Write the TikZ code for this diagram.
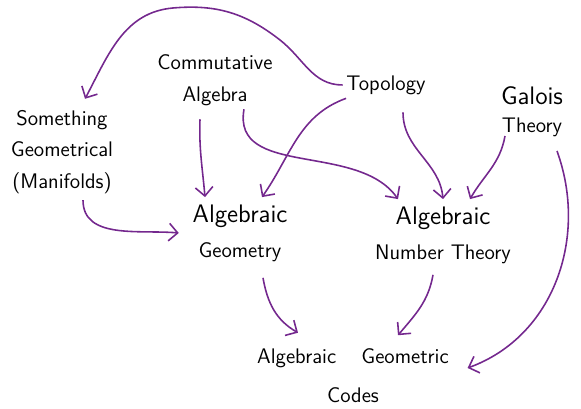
\documentclass[tikz,border=0pt]{standalone}
\usepackage{tikz}
\usetikzlibrary{arrows.meta}
\definecolor{linkpurple}{RGB}{116,40,142}
\tikzset{
    topic/.style={align=center, font=\large\sffamily, inner sep=2pt},
    arrow/.style={draw=linkpurple, line width=0.9pt, -{Straight Barb[length=5pt,width=10pt]}}
}
\begin{document}
\begin{tikzpicture}
    \useasboundingbox (0,0) rectangle (11.62,8.18);
    \node (comalg) [topic] at (4.30,6.58) {Commutative\\[4pt]Algebra};
    \node (topo) [topic] at (7.72,6.48) {Topology};
    \node (galois) [topic] at (10.64,5.94) {{\Large Galois}\\[2pt]Theory};
    \node (geom) [topic] at (1.24,5.14) {Something\\[4pt]Geometrical\\[4pt](Manifolds)};
    \node (alggeom) [topic] at (4.80,3.52) {{\Large Algebraic}\\[6pt]Geometry};
    \node (algnum) [topic] at (8.86,3.48) {{\Large Algebraic}\\[6pt]Number Theory};
    \node (codes) [topic] at (7.06,0.66) {Algebraic\hspace{1.2em}Geometric\\[8pt]Codes};

    \draw [arrow] (topo.west) to[out=180,in=-38] (5.6,7.38) to[out=142,in=5] (3.46,8.02) to[out=185,in=62] ([xshift=0.46cm,yshift=0.15cm]geom.north);
    \draw [arrow] ([xshift=2pt]topo.south west) to[out=200,in=55] ([xshift=0.44cm,yshift=2pt]alggeom.north);
    \draw [arrow] ([xshift=0.34cm,yshift=-0.28cm]topo.south) to[out=-90,in=95] ([yshift=2pt]algnum.north);
    \draw [arrow] ([xshift=-0.3cm,yshift=-0.2cm]comalg.south) to[out=-92,in=95] ([xshift=-0.7cm,yshift=2pt]alggeom.north);
    \draw [arrow] ([xshift=0.58cm]comalg.south) to[out=-100,in=125] ([xshift=-0.9cm,yshift=2pt]algnum.north);
    \draw [arrow] ([xshift=-0.54cm,yshift=0.1cm]galois.south) to[out=-100,in=60] ([xshift=0.54cm,yshift=2pt]algnum.north);
    \draw [arrow] ([xshift=0.5cm,yshift=-0.2cm]galois.south) to[out=-70,in=20] ([xshift=0.3cm,yshift=0.16cm]codes.east);
    \draw [arrow] ([xshift=0.42cm,yshift=-0.05cm]geom.south) to[out=-90,in=175] ([xshift=-0.2cm]alggeom.west);
    \draw [arrow] ([xshift=0.46cm,yshift=-0.25cm]alggeom.south) to[out=-80,in=150] ([xshift=-1.1cm,yshift=0.25cm]codes.north);
    \draw [arrow] ([xshift=-0.2cm,yshift=-0.15cm]algnum.south) to[out=-100,in=50] ([xshift=0.9cm,yshift=0.2cm]codes.north);
\end{tikzpicture}
\end{document}
